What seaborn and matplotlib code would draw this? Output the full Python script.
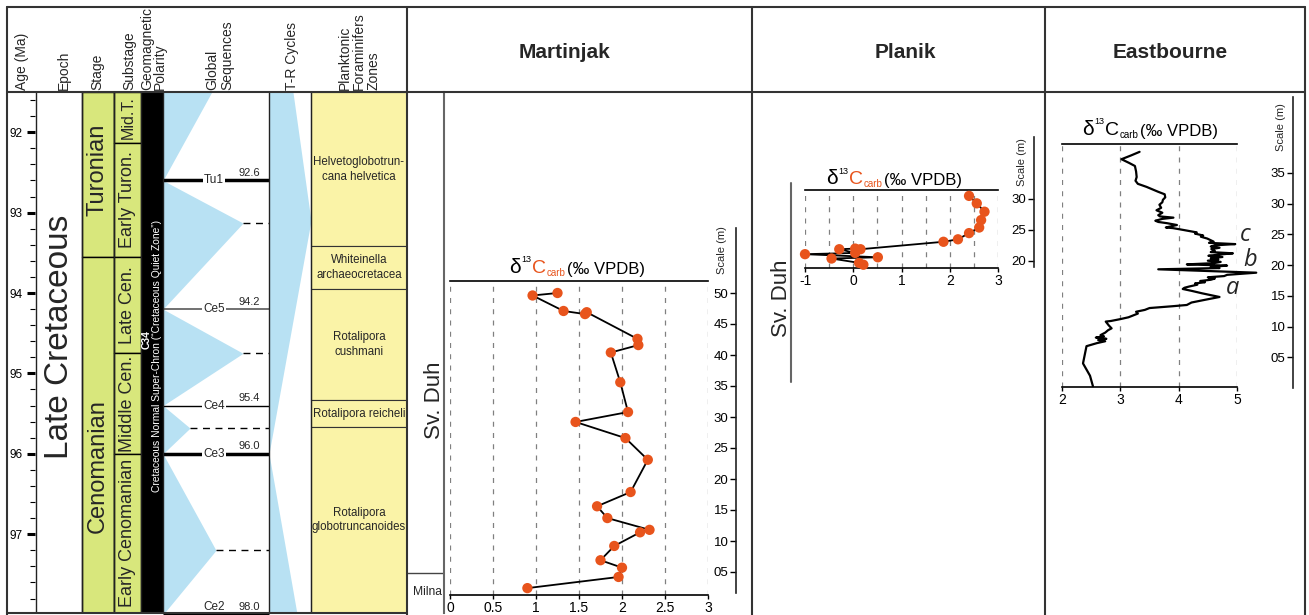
import matplotlib
matplotlib.use("Agg")
import matplotlib.pyplot as plt
import numpy as np
import pandas as pd
import seaborn as sns
from matplotlib.ticker import MultipleLocator, FuncFormatter

# ---------------- data ----------------
# stratigraphy (ages in Ma)
stage_names = ["Turonian", "Cenomanian"]
stage_tops = [91.5, 93.55]
stage_bases = [93.55, 98.0]
stage_label_age = [92.47, 96.15]

substage_names = ["Mid.T.", "Early Turon.", "Late Cen.", "Middle Cen.", "Early Cenomanian"]
substage_tops = [91.5, 92.13, 93.55, 94.75, 96.0]
substage_bases = [92.13, 93.55, 94.75, 96.0, 98.0]

zone_names = ["Helvetoglobotrun-\ncana helvetica", "Whiteinella\narchaeocretacea",
              "Rotalipora\ncushmani", "Rotalipora reicheli", "Rotalipora\nglobotruncanoides"]
zone_tops = [91.5, 93.42, 93.95, 95.33, 95.67]
zone_bases = [93.42, 93.95, 95.33, 95.67, 98.0]

seq_names = ["Tu1", "Ce5", "Ce4", "Ce3", "Ce2"]
seq_ages = [92.6, 94.2, 95.4, 96.0, 98.0]
seq_labels = ["92.6", "94.2", "95.4", "96.0", "98.0"]

# global sequence zigzag (age, relative transgression reach)
gs_ages = [91.5, 92.6, 93.13, 94.2, 94.75, 95.4, 95.68, 96.0, 97.2, 98.0]
gs_reach = [0.46, 0.0, 0.755, 0.0, 0.755, 0.0, 0.255, 0.0, 0.5, 0.0]
mfs_ages = [93.13, 94.75, 95.68, 97.2]
mfs_reach = [0.755, 0.755, 0.255, 0.5]

# T-R cycle
tr_ages = [91.5, 93.1, 96.0, 98.0]
tr_reach = [0.57, 1.0, 0.0, 0.67]

# Martinjak (d13C, metres)
mj_d13c = [1.25, 0.96, 1.32, 1.57, 1.59, 2.18, 2.19, 1.87, 1.98, 2.07, 1.46, 2.04,
           2.30, 2.10, 1.71, 1.83, 2.32, 2.21, 1.91, 1.75, 2.00, 1.96, 0.90]
mj_m = [50.0, 49.6, 47.1, 46.6, 46.9, 42.6, 41.6, 40.4, 35.6, 30.8, 29.2, 26.6,
        23.1, 17.9, 15.6, 13.7, 11.8, 11.4, 9.2, 6.9, 5.7, 4.2, 2.4]
mj_milna_top = 4.8

# Planik
pl_d13c = [2.40, 2.56, 2.72, 2.65, 2.61, 2.40, 2.17, 1.87, 0.15, 0.04, -0.29, 0.04,
           -1.00, 0.51, -0.45, 0.12, 0.21]
pl_m = [30.5, 29.3, 27.95, 26.6, 25.4, 24.5, 23.5, 23.1, 21.9, 22.0, 21.9, 21.3,
        21.1, 20.6, 20.4, 19.7, 19.4]
pl_svduh = [0.5, 32.6]

# Eastbourne
eb_m = [0.3, 2.0, 4.0, 6.8, 7.3, 7.6, 7.8, 8.0, 8.2, 8.4, 8.6, 9.0, 9.4, 9.7, 10.2,
        10.8, 10.9, 11.2, 11.5, 11.8, 12.1, 12.4, 12.7, 13.0, 13.3, 13.5, 13.9, 14.3,
        14.8, 15.1, 15.4, 15.8, 16.1, 16.3, 16.5, 16.8, 17.0, 17.2, 17.4, 17.6, 17.8,
        18.0, 18.2, 18.4, 18.75, 19.3, 19.5, 19.7, 19.9, 20.1, 20.3, 20.5, 20.7, 20.9,
        21.1, 21.3, 21.5, 21.7, 21.9, 22.1, 22.3, 22.6, 22.8, 23.0, 23.2, 23.4, 23.6,
        23.8, 24.3, 24.6, 24.8, 25.1, 25.3, 25.7, 26.0, 26.1, 26.5, 26.8, 27.0, 27.2,
        27.5, 27.7, 27.9, 28.1, 28.5, 28.9, 29.3, 29.8, 30.2, 30.6, 31.0, 31.5, 31.9,
        32.3, 32.7, 33.2, 33.7, 34.3, 35.2, 36.1, 36.6, 37.2, 37.8, 38.4]
eb_d13c = [2.53, 2.48, 2.36, 2.42, 2.60, 2.74, 2.62, 2.76, 2.58, 2.72, 2.66, 2.74, 2.79,
           2.85, 2.80, 2.75, 2.84, 3.00, 3.14, 3.22, 3.30, 3.27, 3.42, 3.50, 3.90, 4.14,
           4.22, 4.43, 4.70, 4.55, 4.40, 4.22, 4.07, 4.10, 4.18, 4.32, 4.28, 4.45, 4.37,
           4.55, 4.62, 4.50, 4.78, 4.83, 5.33, 3.65, 4.70, 4.55, 4.83, 4.14, 4.60, 4.72,
           4.50, 4.68, 4.55, 4.75, 4.51, 4.70, 4.93, 4.55, 4.62, 4.56, 4.70, 4.55, 4.62,
           4.97, 4.52, 4.60, 4.49, 4.38, 4.42, 4.28, 4.31, 4.08, 3.90, 3.78, 3.97, 3.80,
           3.65, 3.60, 3.72, 3.91, 3.68, 3.65, 3.72, 3.62, 3.70, 3.67, 3.72, 3.73, 3.77,
           3.76, 3.65, 3.55, 3.45, 3.30, 3.26, 3.28, 3.27, 3.25, 3.15, 3.02, 3.18, 3.33]

# ---------------- style ----------------
sns.set_style("white")
plt.rcParams["font.family"] = ["Liberation Sans", "DejaVu Sans"]
plt.rcParams["axes.unicode_minus"] = False

BLUE = "#b8e1f3"
GREEN = "#d8e77c"
YELLOW = "#faf3a7"
ORANGE = "#e8541c"

W, H = 1309, 615
fig = plt.figure(figsize=(W / 100, H / 100), dpi=100)


def box(l, t, r, b):
    return [l / W, 1 - b / H, (r - l) / W, (b - t) / H]


canvas = fig.add_axes([0, 0, 1, 1], zorder=10)
canvas.set_xlim(0, W)
canvas.set_ylim(H, 0)
canvas.axis("off")

# ---------------- stratigraphic columns ----------------
AGE_TOP, AGE_BOT = 91.5, 97.98
st = fig.add_axes(box(7, 92, 407, 613))
st.set_xlim(7, 407)
st.set_ylim(AGE_BOT, AGE_TOP)
for s in st.spines.values():
    s.set_visible(False)
st.spines["left"].set_position(("data", 35))
st.yaxis.set_major_locator(MultipleLocator(1))
st.yaxis.set_minor_locator(MultipleLocator(0.2))
st.yaxis.set_major_formatter(FuncFormatter(lambda v, p: f"{v:.0f}"))
st.tick_params(axis="y", which="major", left=True, length=6, width=2.2, direction="out",
               labelsize=8.5, pad=3, colors="black")
st.tick_params(axis="y", which="minor", left=True, length=3.3, width=0.8, direction="out",
               colors="black")
st.tick_params(axis="x", bottom=False, labelbottom=False)

# stage
for name, top, base in zip(stage_names, stage_tops, stage_bases):
    st.fill_betweenx([top, base], 82, 114, color=GREEN, edgecolor="black", lw=1)
for name, a in zip(stage_names, stage_label_age):
    st.text(98, a, name, rotation=90, ha="center", va="center", fontsize=17)

# substage
for name, top, base in zip(substage_names, substage_tops, substage_bases):
    st.fill_betweenx([top, base], 114, 141, color=GREEN, edgecolor="black", lw=1)
    mid = (top + min(base, AGE_BOT)) / 2
    fs = 11.5 if name == "Mid.T." else 13
    st.text(128, mid, name, rotation=90, ha="center", va="center", fontsize=fs)

# epoch
st.text(60, 94.55, "Late Cretaceous", rotation=90, ha="center", va="center", fontsize=24)

# polarity
st.fill_betweenx([AGE_TOP, AGE_BOT], 141, 163, color="black", lw=0)
st.text(146.5, 94.58, "C34", rotation=90, ha="center", va="center", fontsize=7.5,
        color="white", weight="bold")
st.text(157, 94.78, "Cretaceous Normal Super-Chron (\u201cCretaceous Quiet Zone\u201d)",
        rotation=90, ha="center", va="center", fontsize=7.4, color="white")

# global sequences
gs_x = 163 + np.array(gs_reach) * 106
st.fill_betweenx(gs_ages, 163, gs_x, color=BLUE, lw=0)
for a, r in zip(mfs_ages, mfs_reach):
    st.plot([163 + r * 106, 269], [a, a], color="black", lw=1, ls=(0, (5, 4)))
seq_lw = [2.5, 1.3, 1.0, 2.5, 2.5]
seq_col = ["black", "#666666", "black", "black", "black"]
for name, a, lab, lw, c in zip(seq_names, seq_ages, seq_labels, seq_lw, seq_col):
    st.plot([163, 269], [a, a], color=c, lw=lw, clip_on=False, solid_capstyle="butt")
    st.text(214, min(a, AGE_BOT - 0.07), name, ha="center", va="center", fontsize=8.5,
            clip_on=False, bbox=dict(fc="white", ec="none", pad=0.8))
    st.text(249, a - 0.03, lab, ha="center", va="bottom", fontsize=8, clip_on=False)

# T-R cycles
st.fill_betweenx(tr_ages, 269, 269 + np.array(tr_reach) * 42, color=BLUE, lw=0)

# planktonic foraminifer zones
for name, top, base in zip(zone_names, zone_tops, zone_bases):
    st.fill_betweenx([top, base], 311, 407, color=YELLOW, edgecolor="#333333", lw=0.8)
    mid = (top + min(base, AGE_BOT)) / 2
    st.text(359, mid, name, ha="center", va="center", fontsize=8.3, linespacing=1.3)

for x in [36, 82, 114, 141, 163, 269, 311]:
    st.axvline(x, color="#222222", lw=1)

# headers
headers = [(22, "Age (Ma)", 1.0), (64, "Epoch", 1.0), (97, "Stage", 1.0), (129, "Substage", 1.0),
           (153.5, "Geomagnetic\nPolarity", 0.85), (220, "Global\nSequences", 1.05),
           (292, "T-R Cycles", 1.0), (359, "Planktonic\nForaminifers\nZones", 1.05)]
for x, lab, ls in headers:
    canvas.text(x, 90, lab, rotation=90, ha="center", va="bottom", fontsize=10,
                multialignment="left", linespacing=ls)

canvas.text(565, 52, "Martinjak", fontsize=15, weight="bold", ha="center", va="center")
canvas.text(905, 52, "Planik", fontsize=15, weight="bold", ha="center", va="center")
canvas.text(1170, 52, "Eastbourne", fontsize=15, weight="bold", ha="center", va="center")

# frame
fc = "#333333"
canvas.plot([7, 1305], [7, 7], color=fc, lw=1.5)
canvas.plot([7, 1305], [92, 92], color=fc, lw=1.5)
canvas.plot([7, 407], [613, 613], color=fc, lw=1.5)
for x in [7, 407, 752, 1045, 1305]:
    canvas.plot([x, x], [7, 615], color=fc, lw=1.5)


# ---------------- d13C panels ----------------
def d13c_title(x, y, colored):
    c = ORANGE if colored else "black"
    pieces = [("\u03b4", 15, "black", 0, 0), ("13", 6.5, "black", 0.5, 9),
              ("C", 14, c, 0.5, -9), ("carb", 7, c, 0.3, -0.5), ("(\u2030 VPDB)", 12, "black", 1.5, 0.5)]
    prev = canvas.text(x, y, pieces[0][0], fontsize=pieces[0][1], color=pieces[0][2],
                       ha="left", va="bottom")
    for txt, fs, col, dx, dy in pieces[1:]:
        prev = canvas.annotate(txt, xy=(1, 0), xycoords=prev, xytext=(dx, dy),
                               textcoords="offset points", fontsize=fs, color=col,
                               ha="left", va="bottom")


def style_plot(ax, major, minor, fmt):
    for side in ["left", "right"]:
        ax.spines[side].set_visible(False)
    for side in ["top", "bottom"]:
        ax.spines[side].set_color("black")
        ax.spines[side].set_linewidth(1.2)
    ax.xaxis.set_major_locator(MultipleLocator(major))
    ax.xaxis.set_minor_locator(MultipleLocator(minor))
    ax.xaxis.set_major_formatter(FuncFormatter(fmt))
    ax.grid(True, axis="x", which="both", ls=(0, (4, 5)), color="#808080", lw=0.9)
    ax.tick_params(axis="x", which="major", bottom=True, direction="out", length=3, width=1,
                   colors="black", labelsize=10, pad=1)
    ax.tick_params(axis="x", which="minor", bottom=False)
    ax.set_yticks([])
    ax.set_xlabel("")
    ax.set_ylabel("")
    ax.patch.set_alpha(0)


def scale_axis(l, t, b, y0, ppm, ticks):
    sc = fig.add_axes(box(l, t, l + 1, b))
    sc.set_ylim((y0 - b) / ppm, (y0 - t) / ppm)
    for side in ["top", "bottom", "right"]:
        sc.spines[side].set_visible(False)
    sc.spines["left"].set_color("#222222")
    sc.spines["left"].set_linewidth(1.2)
    sc.set_yticks(ticks)
    sc.set_yticklabels([f"{v:02d}" for v in ticks])
    sc.set_xticks([])
    sc.tick_params(axis="y", left=True, direction="out", length=4.5, width=1,
                   labelsize=9.5, pad=1, colors="black")
    sc.patch.set_alpha(0)
    return sc


# Martinjak
MJ_Y0, MJ_PPM = 603, 6.2
mj = fig.add_axes(box(450, 281, 708, 595))
df_mj = pd.DataFrame({"d13c": mj_d13c, "m": mj_m})
sns.lineplot(data=df_mj, x="d13c", y="m", sort=False, estimator=None, color="black",
             lw=1.3, ax=mj)
sns.scatterplot(data=df_mj, x="d13c", y="m", color=ORANGE, s=55, edgecolor="none",
                ax=mj, zorder=3, clip_on=False)
mj.set_xlim(0, 3)
mj.set_ylim((MJ_Y0 - 595) / MJ_PPM, (MJ_Y0 - 281) / MJ_PPM)
style_plot(mj, 0.5, 0.5, lambda v, p: f"{v:g}")
scale_axis(736, 228, 593, MJ_Y0, MJ_PPM, [5, 10, 15, 20, 25, 30, 35, 40, 45, 50])
canvas.text(722, 250, "Scale (m)", rotation=90, ha="center", va="center", fontsize=8)
d13c_title(509, 277, True)

lith = fig.add_axes(box(407, 92, 444, 613))
lith.set_xlim(0, 1)
lith.set_ylim((MJ_Y0 - 613) / MJ_PPM, (MJ_Y0 - 92) / MJ_PPM)
for s in lith.spines.values():
    s.set_visible(False)
lith.spines["right"].set_visible(True)
lith.spines["right"].set_color("#666666")
lith.spines["right"].set_linewidth(1.5)
lith.set_xticks([])
lith.set_yticks([])
lith.patch.set_alpha(0)
lith.axhline(mj_milna_top, color="#444444", lw=1)
lith.text(0.73, 32.7, "Sv. Duh", rotation=90, ha="center", va="center", fontsize=16)
lith.text(0.55, 1.8, "Milna", ha="center", va="center", fontsize=8.7)

# Planik
PL_Y0, PL_PPM = 385, 6.2
pl = fig.add_axes(box(805, 190, 998, 268))
df_pl = pd.DataFrame({"d13c": pl_d13c, "m": pl_m})
sns.lineplot(data=df_pl, x="d13c", y="m", sort=False, estimator=None, color="black",
             lw=1.3, ax=pl)
sns.scatterplot(data=df_pl, x="d13c", y="m", color=ORANGE, s=55, edgecolor="none",
                ax=pl, zorder=3, clip_on=False)
pl.set_xlim(-1, 3)
pl.set_ylim((PL_Y0 - 268) / PL_PPM, (PL_Y0 - 190) / PL_PPM)
style_plot(pl, 1, 0.5, lambda v, p: f"{v:g}")
scale_axis(1034, 137, 267, PL_Y0, PL_PPM, [20, 25, 30])
canvas.text(1022, 162, "Scale (m)", rotation=90, ha="center", va="center", fontsize=8)
d13c_title(826, 188, True)

lith2 = fig.add_axes(box(760, 92, 791, 613))
lith2.set_xlim(0, 1)
lith2.set_ylim((PL_Y0 - 613) / PL_PPM, (PL_Y0 - 92) / PL_PPM)
lith2.axis("off")
lith2.plot([1, 1], pl_svduh, color="#666666", lw=1.5, clip_on=False)
lith2.text(0.7, 14.0, "Sv. Duh", rotation=90, ha="center", va="center", fontsize=16)

# Eastbourne
EB_Y0, EB_PPM = 388, 6.15
eb = fig.add_axes(box(1062, 144, 1237, 387))
df_eb = pd.DataFrame({"d13c": eb_d13c, "m": eb_m})
sns.lineplot(data=df_eb, x="d13c", y="m", sort=False, estimator=None, color="black",
             lw=1.6, ax=eb, clip_on=False)
eb.set_xlim(2, 5)
eb.set_ylim((EB_Y0 - 387) / EB_PPM, (EB_Y0 - 144) / EB_PPM)
style_plot(eb, 1, 1, lambda v, p: f"{v:g}")
for lab, x, y in [("a", 4.93, 16.3), ("b", 5.23, 20.8), ("c", 5.14, 24.9)]:
    eb.text(x, y, lab, fontsize=17, style="italic", family=["Open Sans", "DejaVu Sans"],
            ha="center", va="center", clip_on=False)
scale_axis(1293, 97, 388, EB_Y0, EB_PPM, [5, 10, 15, 20, 25, 30, 35])
canvas.text(1281, 127, "Scale (m)", rotation=90, ha="center", va="center", fontsize=8)
d13c_title(1082, 139, False)

fig.savefig("out.png", dpi=100)
